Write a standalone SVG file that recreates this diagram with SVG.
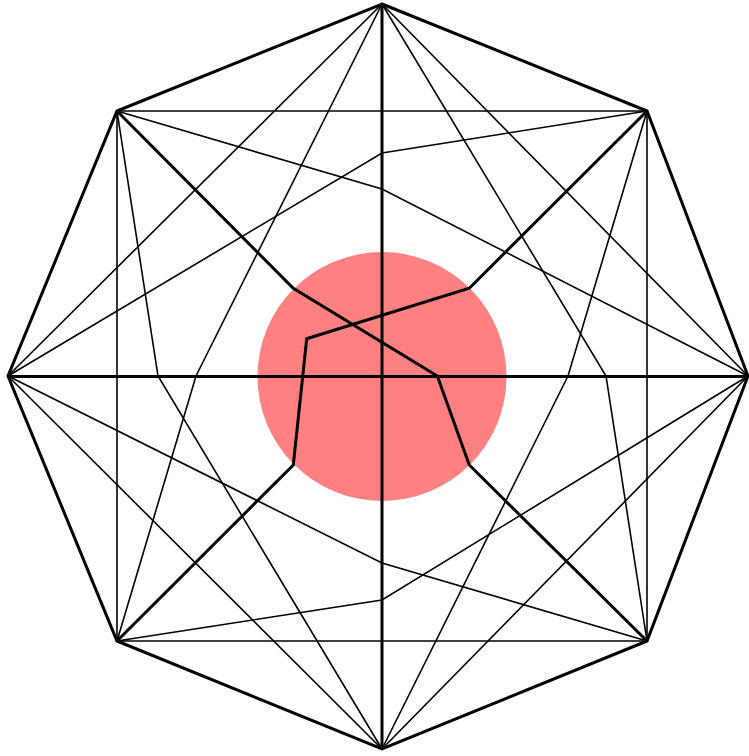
<svg xmlns="http://www.w3.org/2000/svg" width="749" height="756" viewBox="0 0 749 756">
<style>
.thick{fill:none;stroke:#000;stroke-width:3;stroke-linejoin:miter}
.thin{fill:none;stroke:#000;stroke-width:1.6}
</style>
<rect width="749" height="756" fill="#fff"/>
<g id="disc"><circle cx="382" cy="376.5" r="124.5" fill="#ff8080"/></g>
<g id="connectors">
<g id="thin-chords">
<line class="thin" x1="117" y1="111" x2="647" y2="111"/>
<line class="thin" x1="117" y1="641" x2="647" y2="641"/>
<line class="thin" x1="117" y1="111" x2="117" y2="641"/>
<line class="thin" x1="647" y1="111" x2="647" y2="641"/>
<line class="thin" x1="382" y1="4" x2="8" y2="376"/>
<line class="thin" x1="382" y1="4" x2="748" y2="376"/>
<line class="thin" x1="382" y1="749" x2="8" y2="376"/>
<line class="thin" x1="382" y1="749" x2="748" y2="376"/>
<polyline class="thin" points="382,4 196,376 117,641"/>
<polyline class="thin" points="117,111 158,376 382,749"/>
<polyline class="thin" points="382,4 606,376 647,641"/>
<polyline class="thin" points="647,111 568,376 382,749"/>
<polyline class="thin" points="647,111 382,153 8,376"/>
<polyline class="thin" points="117,111 382,189 748,376"/>
<polyline class="thin" points="8,376 382,563 647,641"/>
<polyline class="thin" points="748,376 382,600 117,641"/>
</g>
<g id="thick-lines">
<line class="thick" x1="382" y1="4" x2="382" y2="749"/>
<line class="thick" x1="8" y1="376.5" x2="748" y2="376.5"/>
<polyline class="thick" points="117,111 293.3,288.3 437.3,376 469.3,465 647,641"/>
<polyline class="thick" points="647,111 469.3,288.3 306.7,338.7 293.3,465 117,641"/>
<polygon class="thick" points="382,4 647,111 748,376 647,641 382,749 117,641 8,376 117,111"/>
</g>
</g>
</svg>
